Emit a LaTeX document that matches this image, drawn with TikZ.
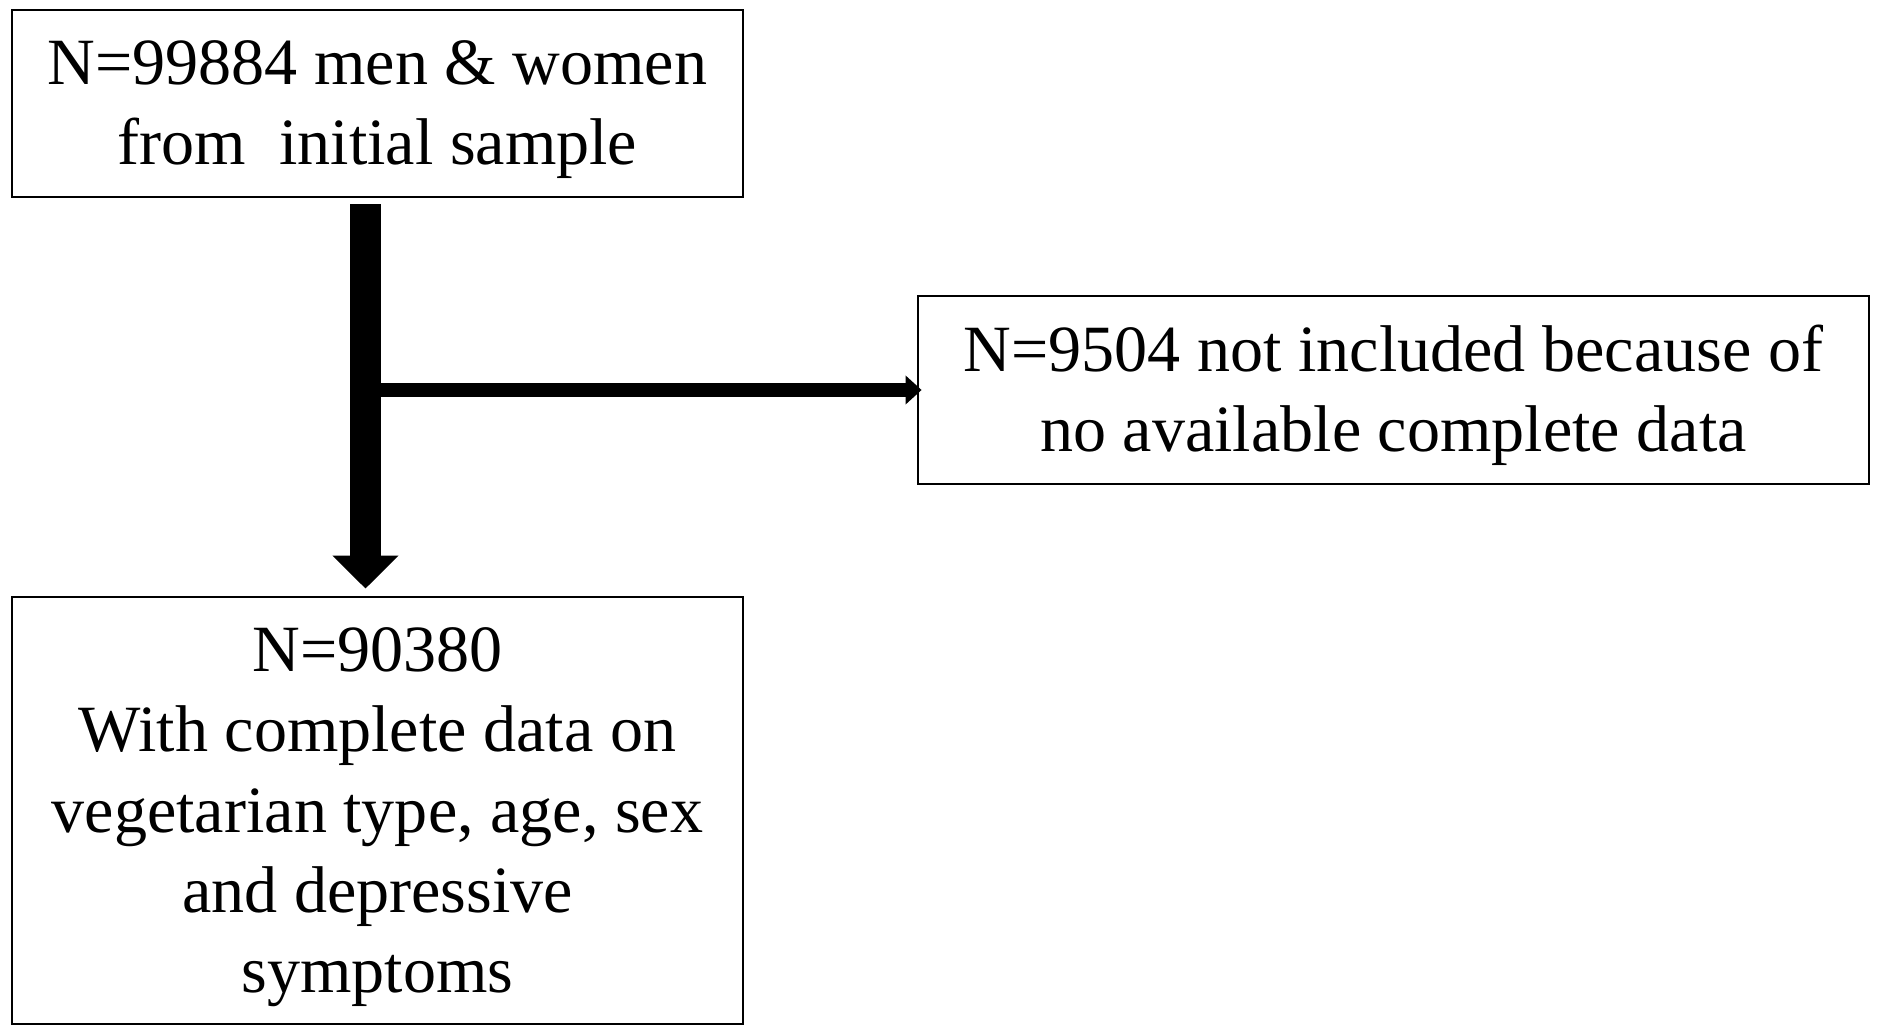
\documentclass[tikz,border=0pt]{standalone}
\usepackage{fontspec}
\setmainfont{Liberation Serif}
\usetikzlibrary{arrows.meta}

\begin{document}
\begin{tikzpicture}[
    box/.style={draw, line width=0.8pt, align=center, inner sep=0pt,
        font=\fontsize{18.8}{22.8}\selectfont, text depth=0.144cm},
    bigarrow/.style={line width=0.31cm, -{Triangle[width=0.64cm,length=0.33cm]}},
    sidearrow/.style={line width=0.14cm, -{Triangle[width=0.28cm,length=0.16cm]}}
]
\useasboundingbox (0,0) rectangle (18.78,-10.34);
%\draw[gray] (0,-10.34) grid (18.78,0);
\node[box, minimum width=7.31cm, minimum height=1.87cm, text height=1.37cm] (initial) at (3.775,-1.035)
    {N=99884 men \& women\\from\ \ initial sample};
\node[box, minimum width=9.51cm, minimum height=1.88cm, text height=1.37cm] (excluded) at (13.935,-3.90)
    {N=9504 not included because of\\no available complete data};
\node[box, minimum width=7.31cm, minimum height=4.27cm, text height=3.78cm] (complete) at (3.775,-8.105)
    {N=90380\\With complete data on\\vegetarian type, age, sex\\and depressive\\symptoms};
\coordinate (split) at (3.81,-3.90);
\draw[bigarrow] ([xshift=-0.12cm,yshift=-0.06cm]initial.south) -- ([xshift=-0.12cm,yshift=0.07cm]complete.north);
\draw[sidearrow, shorten >=-0.05cm] (split) -- (excluded.west);
\end{tikzpicture}
\end{document}
